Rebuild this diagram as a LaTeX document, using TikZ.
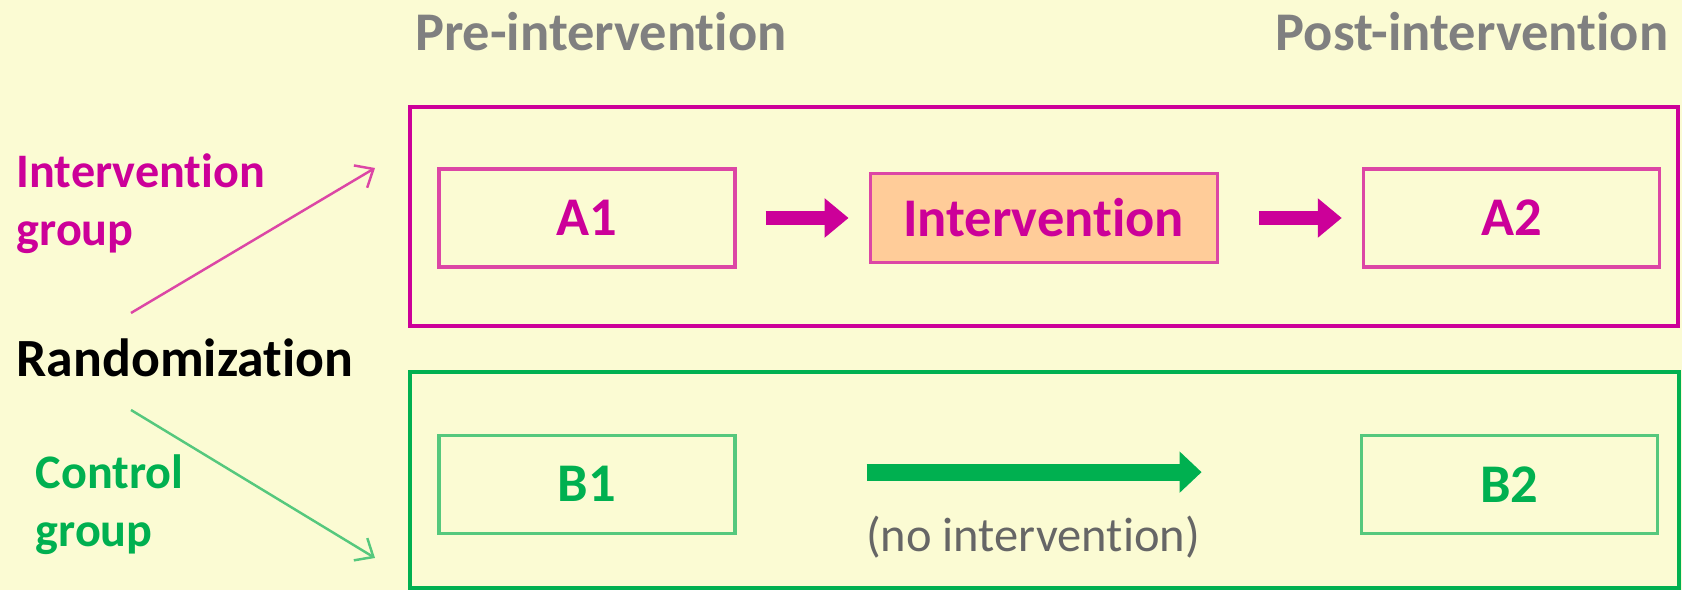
\documentclass[tikz,border=0pt]{standalone}
\usepackage{fontspec}
\setmainfont{Carlito}[Ligatures=NoCommon]
\usepackage{tikz}
\usetikzlibrary{arrows.meta,positioning}

\definecolor{bgyellow}{RGB}{251,251,211}
\definecolor{armA}{RGB}{204,0,153}
\definecolor{armAlight}{RGB}{220,70,165}
\definecolor{armB}{RGB}{0,176,80}
\definecolor{armBlight}{RGB}{85,200,125}
\definecolor{peach}{RGB}{255,204,153}
\definecolor{headgray}{RGB}{128,128,128}

\begin{document}
\begin{tikzpicture}[
    header/.style={inner sep=0pt, text=headgray, font=\fontsize{15.5}{18}\selectfont\bfseries},
    sidelabel/.style={inner sep=0pt, align=left, anchor=north west, font=\fontsize{13.7}{16.5}\selectfont\bfseries},
    boxA/.style={draw=armAlight, rectangle, line width=0.9pt, inner sep=0pt, minimum width=2.96cm, minimum height=0.98cm, text=armA, font=\fontsize{15.5}{18}\selectfont\bfseries},
    boxB/.style={draw=armBlight, rectangle, line width=0.9pt, inner sep=0pt, minimum width=2.96cm, minimum height=0.98cm, text=armB, font=\fontsize{15.5}{18}\selectfont\bfseries},
    groupA/.style={draw=armA, line width=1.4pt},
    groupB/.style={draw=armB, line width=1.4pt},
    blockA/.style={-{Triangle[length=2.4mm,width=3.8mm]}, line width=4pt, color=armA},
    blockB/.style={-{Triangle[length=2.2mm,width=4mm]}, line width=4.8pt, color=armB},
    split/.style={-{Straight Barb[length=1.5mm,width=2.6mm]}, line width=0.7pt}
]

% background and page size
\fill[bgyellow] (0,0) rectangle (16.82,-5.90);
\useasboundingbox (0,0) rectangle (16.82,-5.90);

% time points
\node[header] (pre) at (6.01,-0.32) {Pre-intervention};
\node[header] (post) at (14.72,-0.32) {Post-intervention};

% the two arms
\draw[groupA] (4.10,-1.07) rectangle (16.78,-3.26);
\draw[groupB] (4.10,-3.72) rectangle (16.79,-5.88);

% intervention arm
\node[boxA] (a1) at (5.87,-2.18) {A1};
\node[boxA, fill=peach, minimum width=3.47cm, minimum height=0.89cm, right=1.32cm of a1] (int) {Intervention};
\node[boxA, right=1.43cm of int] (a2) {A2};

% control arm
\node[boxB, below=1.65cm of a1] (b1) {B1};
\node[boxB, right=6.23cm of b1] (b2) {B2};

\draw[blockA, shorten <=0.29cm, shorten >=0.2cm] (a1.east) -- (int.west);
\draw[blockA, shorten <=0.40cm, shorten >=0.2cm] (int.east) -- (a2.west);
\draw[blockB, shorten <=1.30cm, shorten >=1.58cm] ([yshift=1.2mm]b1.east) -- ([yshift=1.2mm]b2.west);
\node[inner sep=0pt, text=black!60, font=\fontsize{13.8}{16}\selectfont] (noint) at (10.33,-5.37) {(no intervention)};

% randomization
\node[inner sep=0pt, anchor=west, font=\fontsize{15.3}{18}\selectfont\bfseries] (rand) at (0.16,-3.575) {Randomization};
\node[sidelabel, text=armA] (lblA) at (0.16,-1.53) {Intervention\\group};
\node[sidelabel, text=armB] (lblB) at (0.35,-4.54) {Control\\group};

\coordinate (ra) at (1.31,-3.13);
\coordinate (ta) at (3.75,-1.68);
\coordinate (rb) at (1.31,-4.10);
\coordinate (tb) at (3.75,-5.58);
\draw[split, armAlight] (ra) -- (ta);
\draw[split, armBlight] (rb) -- (tb);

\end{tikzpicture}
\end{document}
